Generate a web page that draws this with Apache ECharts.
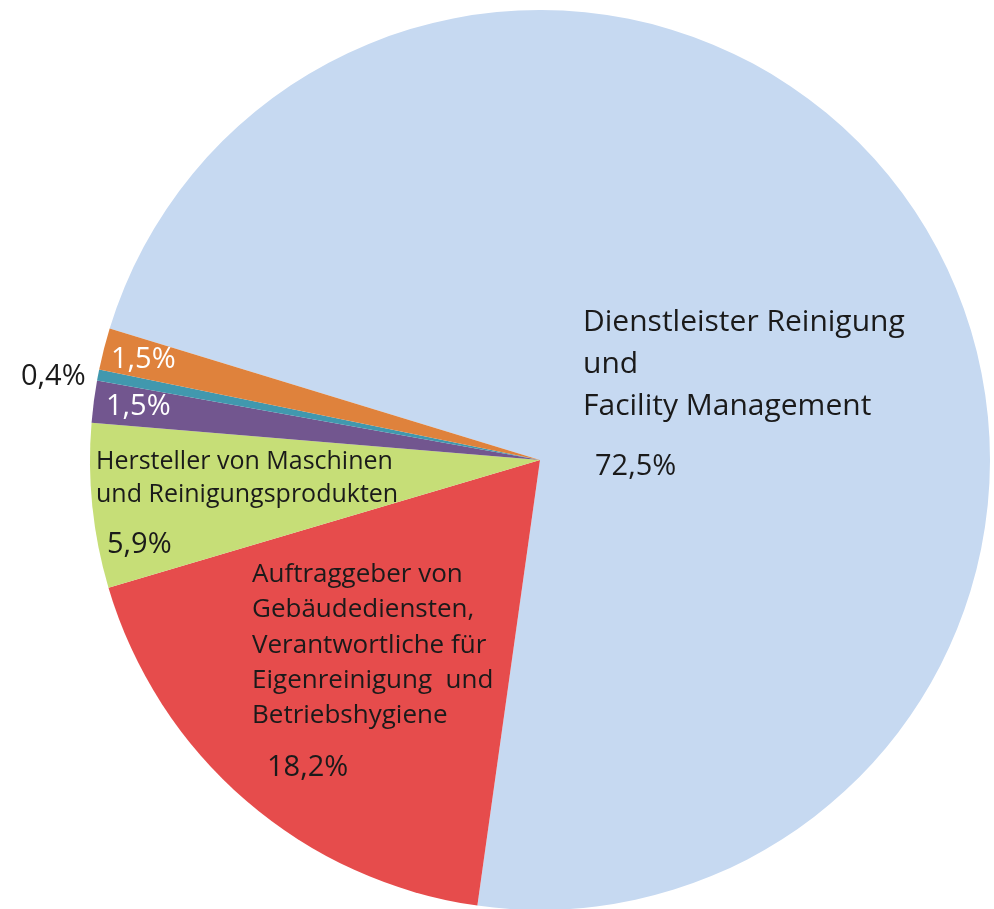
<!DOCTYPE html>
<html>
<head>
<meta charset="utf-8">
<script src="https://cdn.jsdelivr.net/npm/echarts@6/dist/echarts.min.js"></script>
<style>
    html, body { margin: 0; padding: 0; background: #fff; }
    #chart { width: 994px; height: 909px; }
</style>
</head>
<body>
<div id="chart"></div>
<script>
    // segments, clockwise starting with the big one
    const names = [
        'Dienstleister Reinigung\nund\nFacility Management',
        'Auftraggeber von\nGebäudediensten,\nVerantwortliche für\nEigenreinigung  und\nBetriebshygiene',
        'Hersteller von Maschinen\nund Reinigungsprodukten',
        'Purple',
        'Teal',
        'Orange'
    ];
    const values = [72.5, 18.2, 5.9, 1.5, 0.4, 1.5];
    const percentLabels = ['72,5%', '18,2%', '5,9%', '1,5%', '0,4%', '1,5%'];
    const colors = ['#c6d9f1', '#e64c4c', '#c6de77', '#72568f', '#4198ae', '#df823c'];

    let dom = document.getElementById('chart');
    let myChart = echarts.init(dom);

    const font = '"Segoe UI", "Open Sans", sans-serif';

    function txt(x, y, text, size, color, lh) {
        return {
            type: 'text',
            left: x,
            top: y,
            z: 100,
            style: {
                text: text,
                fill: color || '#1a1a1a',
                font: size + 'px ' + font,
                lineHeight: lh || 40
            }
        };
    }

    let option = {
        animation: false,
        series: [
            {
                type: 'pie',
                center: [540, 460],
                radius: [0, 450],
                startAngle: 163,
                clockwise: true,
                label: {show: false},
                labelLine: {show: false},
                emphasis: {disabled: true},
                data: values.map((v, i) => ({
                    value: v,
                    name: names[i],
                    itemStyle: {color: colors[i]}
                }))
            }
        ],
        graphic: [
            txt(583, 301, names[0], 30, '#1a1a1a', 42),
            txt(595, 447, percentLabels[0], 29),
            txt(252, 557, names[1], 26, '#1a1a1a', 35.3),
            txt(267, 748, percentLabels[1], 29),
            txt(96, 445, names[2], 25, '#1a1a1a', 33),
            txt(107, 525, percentLabels[2], 29),
            txt(106, 387, percentLabels[3], 29, '#ffffff'),
            txt(21, 357, percentLabels[4], 29),
            txt(111, 340, percentLabels[5], 29, '#ffffff')
        ]
    };
    if (option && typeof option === 'object') {
        myChart.setOption(option, true);
    }
</script>
</body>
</html>
